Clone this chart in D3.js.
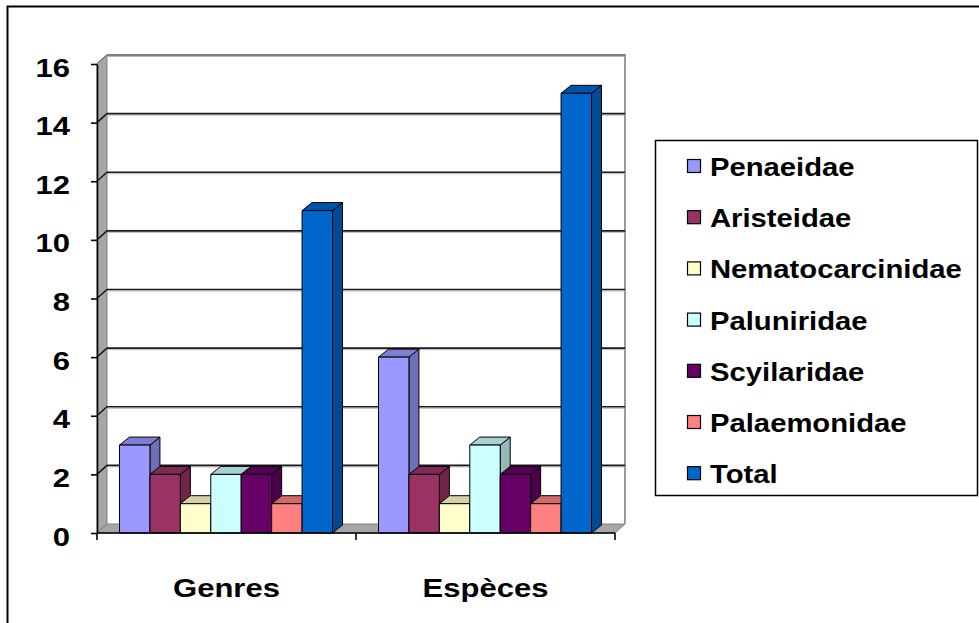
<!DOCTYPE html>
<html>
<head>
<meta charset="utf-8">
<script src="https://cdn.jsdelivr.net/npm/d3@7"></script>
<style>
  html, body { margin: 0; padding: 0; background: #fff; }
  svg { display: block; }
  text { font-family: "Liberation Sans", Arial, sans-serif; font-weight: bold; fill: #000; }
</style>
</head>
<body>
<svg id="chart" width="979" height="623"></svg>
<script>
// Chart data
const categories = ["Genres", "Espèces"];
const families = ["Penaeidae", "Aristeidae", "Nematocarcinidae", "Paluniridae", "Scyilaridae", "Palaemonidae", "Total"];
const genresValues = [3, 2, 1, 2, 2, 1, 11];
const especesValues = [6, 2, 1, 3, 2, 1, 15];
const familyColors = ["#9999FF", "#993366", "#FFFFCC", "#CCFFFF", "#660066", "#FF8080", "#0066CC"];
const yTickValues = [0, 2, 4, 6, 8, 10, 12, 14, 16];

const seriesByCategory = [genresValues, especesValues];

const svg = d3.select("#chart");
const W = 979, H = 623;

// Plot geometry (front plane) and 3D depth offsets
const plotLeft = 97, plotRight = 615, plotBottom = 533, plotTop = 64;
const wallDx = 10, wallDy = 9;
const barDx = 10, barDy = 8;
const xStretch = 1.17;

const y = d3.scaleLinear().domain([0, 16]).range([plotBottom, plotTop]);
const x = d3.scaleBand().domain(categories).range([plotLeft, plotRight]).padding(0);
const xInner = d3.scaleBand().domain(families).range([22.5, 235.5]).padding(0);
const color = d3.scaleOrdinal().domain(families).range(familyColors);

// Outer frame
svg.append("rect")
  .attr("x", 7.5).attr("y", 6.5)
  .attr("width", W + 10).attr("height", H + 10)
  .attr("fill", "#fff").attr("stroke", "#000").attr("stroke-width", 2);

const plot = svg.append("g");

// Left side wall
plot.append("path")
  .attr("d", `M${plotLeft},${plotBottom} L${plotLeft},${y(16)} L${plotLeft + wallDx},${y(16) - wallDy} L${plotLeft + wallDx},${plotBottom - wallDy} Z`)
  .attr("fill", "#a6a6a6").attr("stroke", "#808080").attr("stroke-width", 1);

// Floor
plot.append("path")
  .attr("d", `M${plotLeft},${plotBottom} L${plotRight},${plotBottom} L${plotRight + wallDx},${plotBottom - wallDy} L${plotLeft + wallDx},${plotBottom - wallDy} Z`)
  .attr("fill", "#a6a6a6").attr("stroke", "#808080").attr("stroke-width", 1);

// Back wall frame (top edge + right edge)
plot.append("path")
  .attr("d", `M${plotLeft + wallDx},${y(16) - wallDy} L${plotRight + wallDx},${y(16) - wallDy} L${plotRight + wallDx},${plotBottom - wallDy}`)
  .attr("fill", "none").attr("stroke", "#9a9a9a").attr("stroke-width", 2);

// Gridlines on the back wall and left wall
const grid = plot.append("g");
yTickValues.filter(v => v > 0).forEach(v => {
  const yf = y(v), yb = y(v) - wallDy;
  const dark = v === 16 ? "#7a7a7a" : "#1a1a1a";
  grid.append("path")
    .attr("d", `M${plotLeft},${yf + 1.5} L${plotLeft + wallDx},${yb + 1.5} L${plotRight + wallDx},${yb + 1.5}`)
    .attr("fill", "none").attr("stroke", "#b8b8b8").attr("stroke-width", 1);
  grid.append("path")
    .attr("d", `M${plotLeft},${yf} L${plotLeft + wallDx},${yb} L${plotRight + wallDx},${yb}`)
    .attr("fill", "none").attr("stroke", dark).attr("stroke-width", 1.6);
});

// 3D bars
const shade = (c, k) => d3.rgb(c).darker(k).formatHex();
const bars = plot.append("g");
categories.forEach((cat, ci) => {
  const vals = seriesByCategory[ci];
  families.forEach((fam, fi) => {
    const v = vals[fi];
    const x0 = x(cat) + xInner(fam);
    const w = xInner.bandwidth();
    const yt = y(v), yb = y(0);
    const c = color(fam);
    const g = bars.append("g").attr("stroke", "#000").attr("stroke-width", 1).attr("stroke-linejoin", "round");
    // side
    g.append("path")
      .attr("d", `M${x0 + w},${yt} L${x0 + w + barDx},${yt - barDy} L${x0 + w + barDx},${yb - barDy} L${x0 + w},${yb} Z`)
      .attr("fill", shade(c, 0.9));
    // top
    g.append("path")
      .attr("d", `M${x0},${yt} L${x0 + barDx},${yt - barDy} L${x0 + w + barDx},${yt - barDy} L${x0 + w},${yt} Z`)
      .attr("fill", shade(c, 0.55));
    // front
    g.append("rect")
      .attr("x", x0).attr("y", yt).attr("width", w).attr("height", yb - yt)
      .attr("fill", c);
  });
});

// Y axis
const yAxis = d3.axisLeft(y).tickValues(yTickValues).tickSize(6).tickSizeOuter(0).tickPadding(20).tickFormat(d3.format("d"));
const yg = svg.append("g").attr("transform", `translate(${plotLeft},0)`).call(yAxis);
yg.select(".domain").attr("stroke", "#000").attr("stroke-width", 1.6);
yg.selectAll(".tick line").attr("stroke", "#000").attr("stroke-width", 1.6);
yg.selectAll(".tick text")
  .attr("x", null).attr("dy", null)
  .attr("transform", `translate(-27,12) scale(${xStretch},1)`)
  .attr("font-size", 26.5)
  .attr("font-family", "'Liberation Sans', Arial, sans-serif")
  .attr("font-weight", "bold")
  .attr("fill", "#000");

// X axis line, boundary ticks and category labels
const xg = svg.append("g");
xg.append("line")
  .attr("x1", plotLeft).attr("x2", plotRight).attr("y1", plotBottom).attr("y2", plotBottom)
  .attr("stroke", "#000").attr("stroke-width", 1.6);
const boundaries = categories.map(c => x(c)).concat([x(categories[categories.length - 1]) + x.bandwidth()]);
xg.selectAll("line.tick").data(boundaries).join("line")
  .attr("class", "tick")
  .attr("x1", d => d).attr("x2", d => d)
  .attr("y1", plotBottom).attr("y2", plotBottom + 7)
  .attr("stroke", "#000").attr("stroke-width", 1.6);
xg.selectAll("text").data(categories).join("text")
  .attr("transform", d => `translate(${x(d) + x.bandwidth() / 2},597) scale(${xStretch},1)`)
  .attr("text-anchor", "middle")
  .attr("font-size", 26.5)
  .text(d => d);

// Legend
const legend = svg.append("g");
legend.append("rect")
  .attr("x", 655.5).attr("y", 140.5).attr("width", 322).attr("height", 355)
  .attr("fill", "#fff").attr("stroke", "#000").attr("stroke-width", 1.5);
const rows = legend.selectAll("g.item").data(families).join("g")
  .attr("class", "item")
  .attr("transform", (d, i) => `translate(0,${176 + i * 51.2})`);
rows.append("rect")
  .attr("x", 687.5).attr("y", -16.5).attr("width", 13).attr("height", 13)
  .attr("fill", d => color(d)).attr("stroke", "#000").attr("stroke-width", 1.2);
rows.append("text")
  .attr("transform", `translate(710,0) scale(${xStretch},1)`)
  .attr("font-size", 25)
  .text(d => d);
</script>
</body>
</html>
